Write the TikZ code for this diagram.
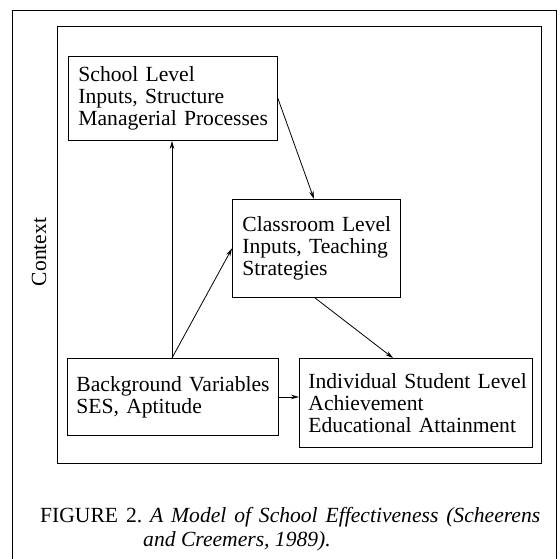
\documentclass[tikz,border=0pt]{standalone}
\usepackage{fontspec}
\setmainfont{Liberation Serif}
\usetikzlibrary{arrows.meta}

\newcommand{\lvlline}[1]{\mbox{#1}}

\tikzset{
	lvlbox/.style={draw=black, line width=0.9pt, align=left, anchor=north west,
		inner xsep=10pt, inner ysep=0pt, font=\fontsize{21.6}{22.3}\selectfont},
	arr/.style={-{Stealth[length=8pt,width=4.5pt]}, line width=0.8pt}
}

\begin{document}
\begin{tikzpicture}[x=1pt, y=-1pt]
	\useasboundingbox (0,0) rectangle (560,558);
	
	% frames
	\draw[line width=0.9pt] (12,570) |- (556,10) -- (556,570);
	\draw[line width=0.9pt] (57,26) rectangle (541,463);
	
	\node[rotate=90, font=\fontsize{21.6}{22}\selectfont] (ctx) at (39,252) {Context};
	
	\node[lvlbox, text width=189pt, minimum height=84pt] (school) at (68,56)
		{\lvlline{School Level}\\\lvlline{Inputs, Structure}\\\lvlline{Managerial Processes}};
	\node[lvlbox, text width=148pt, minimum height=98pt] (cls) at (232,199)
		{\lvlline{Classroom Level}\\\lvlline{Inputs, Teaching}\\\lvlline{Strategies}};
	\node[lvlbox, text width=193pt, minimum height=77pt, inner xsep=9pt] (bg) at (67,358)
		{\lvlline{Background Variables}\\\lvlline{SES, Aptitude}};
	\node[lvlbox, text width=215pt, minimum height=89pt, inner xsep=9pt] (ind) at (299,358)
		{\lvlline{Individual Student Level}\\\lvlline{Achievement}\\\lvlline{Educational Attainment}};
	
	\draw[arr] ([xshift=105pt]bg.north west) -- ([xshift=104pt]school.south west);
	\draw[arr] ([xshift=105pt]bg.north west) -- (cls.west);
	\draw[arr] (school.east) -- ([xshift=82pt]cls.north west);
	\draw[arr] ([xshift=83pt]cls.south west) -- ([xshift=94pt]ind.north west);
	\draw[arr] (bg.east) -- (bg.east -| ind.west);
	
	% caption
	\frenchspacing
	\node[anchor=base west, inner sep=0pt, font=\fontsize{21.6}{24}\selectfont] (capa) at (40,522)
		{\makebox[500pt][s]{FIGURE 2. \textit{A Model of School Effectiveness (Scheerens}}};
	\node[anchor=base west, inner sep=0pt, font=\fontsize{21.6}{24}\selectfont] (capb) at (143,546)
		{\textit{and Creemers, 1989).}};
	
\end{tikzpicture}
\end{document}
